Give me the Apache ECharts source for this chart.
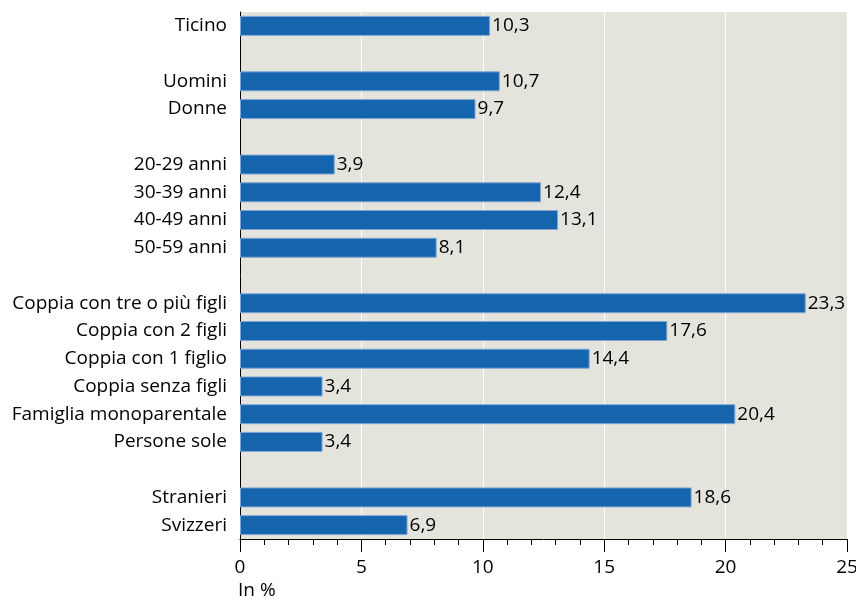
<!DOCTYPE html>
<html><head><meta charset="utf-8">
<script src="https://cdn.jsdelivr.net/npm/echarts@6/dist/echarts.min.js"></script>
<style>html,body{margin:0;padding:0;background:#fff}#c{width:856px;height:601px}</style>
</head><body><div id="c"></div>
<script>
const categories = ["Ticino","","Uomini","Donne","","20-29 anni","30-39 anni","40-49 anni","50-59 anni","","Coppia con tre o più figli","Coppia con 2 figli","Coppia con 1 figlio","Coppia senza figli","Famiglia monoparentale","Persone sole","","Stranieri","Svizzeri"];
const values = [10.3,null,10.7,9.7,null,3.9,12.4,13.1,8.1,null,23.3,17.6,14.4,3.4,20.4,3.4,null,18.6,6.9];
const xTicks = [0,5,10,15,20,25];
const font = "'Open Sans', sans-serif";
const chart = echarts.init(document.getElementById('c'));
chart.setOption({
  animation:false,
  grid:{left:240,right:9,top:12,bottom:62,outerBoundsMode:'none',containLabel:false,backgroundColor:'#e4e3dc',show:true,borderWidth:0},
  xAxis:{type:'value',min:0,max:25,interval:5,
    axisLine:{show:true,lineStyle:{color:'#000',width:1}},
    axisTick:{show:true,length:13,lineStyle:{color:'#000'}},
    minorTick:{show:true,splitNumber:5,length:6,lineStyle:{color:'#000'}},
    splitLine:{show:true,lineStyle:{color:'#ffffff',width:1}},
    axisLabel:{color:'#000',fontSize:19,fontFamily:font,margin:19,
      formatter:v=>xTicks.includes(v)?String(v):''},
    name:'In %',nameLocation:'start',nameGap:0,
    nameTextStyle:{color:'#000',fontSize:19,fontFamily:font,align:'left',verticalAlign:'top',padding:[42,0,0,-2]}
  },
  yAxis:{type:'category',data:categories,inverse:true,
    axisLine:{show:true,lineStyle:{color:'#000',width:1}},
    axisTick:{show:false},
    axisLabel:{color:'#000',fontSize:19,fontFamily:font,margin:13,interval:0}
  },
  series:[{type:'bar',data:values,barWidth:'72%',
    itemStyle:{color:'#1464ae',borderColor:'#7fa6d3',borderWidth:1},
    label:{show:true,position:'right',distance:2,color:'#000',fontSize:19,fontFamily:font,
      formatter:p=>p.value==null?'':String(p.value).replace('.',',')}
  }]
});
</script></body></html>
